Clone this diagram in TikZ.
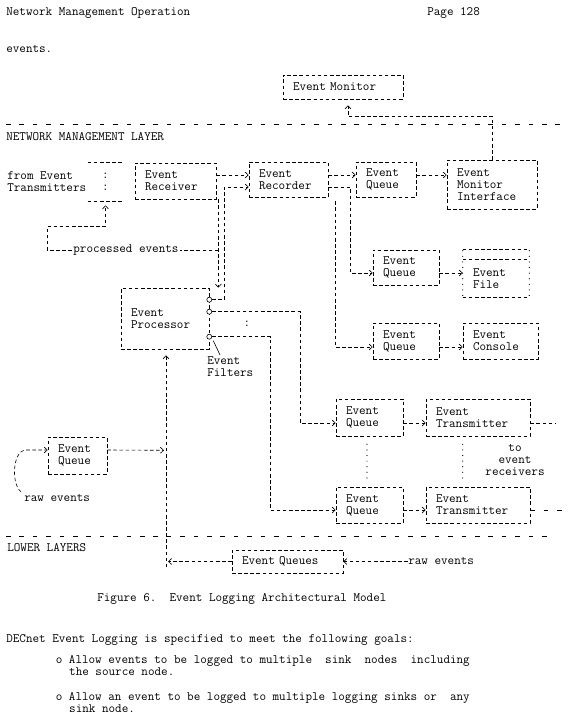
\documentclass[tikz,border=0pt]{standalone}
\usepackage{fontspec}
\usepackage{tikz}
\usetikzlibrary{arrows.meta,calc}
\newcommand{\typefont}{\ttfamily\fontsize{12.76}{12}\selectfont\frenchspacing}

\begin{document}
\begin{tikzpicture}[x=1pt,y=-1pt,line width=0.6pt,
  txt/.style={font=\typefont,inner sep=0pt,text height=7.6pt,text depth=2.2pt,anchor=west},
  lbl/.style={font=\typefont,inner sep=0pt,align=left},
  dashln/.style={dash pattern=on 3.6pt off 2.5pt},
  layer/.style={dash pattern=on 4.5pt off 8.9pt},
  colons/.style={line width=1.2pt,line cap=round,dash pattern=on 0pt off 5.6pt},
  flow/.style={dashln,-{Straight Barb[length=3.2pt,width=6pt]}},
  evbox/.style 2 args={draw,dashln,font=\typefont,align=left,inner xsep=10pt,inner ysep=0pt,text width=#1,minimum height=#2},
  port/.style={circle,draw,solid,fill=white,inner sep=0pt,minimum size=5pt}]
\useasboundingbox[fill=white] (0,0) rectangle (569,724);

\node[txt] (hdr) at (6,13) {Network Management Operation};
\node[txt] (pg) at (427,13) {Page 128};
\node[txt] (prev) at (6,50) {events.};
\node[txt] (nml) at (6,138) {NETWORK MANAGEMENT LAYER};
\node[txt] (ll) at (7,549) {LOWER LAYERS};
\draw[layer] (6,124) -- (563,124);
\draw[layer] (6,536) -- (548,536);

\node[evbox={100pt}{24pt}] (mon) at (343,87) {Event Monitor};
\node[lbl,anchor=west] (srcs) at (7,181.5) {from Event\\Transmitters};
\node[lbl,align=center,minimum width=35pt,minimum height=38pt] (remote) at (105.5,182) {:\\:};
\node[evbox={61pt}{36pt}] (rcv) at (175.5,181) {Event\\Receiver};
\node[evbox={59pt}{35pt}] (rec) at (288.5,179.5) {Event\\Recorder};
\node[evbox={40pt}{35pt}] (q0) at (386,179.5) {Event\\Queue};
\node[evbox={70pt}{49pt}] (mif) at (492,184.5) {Event\\Monitor\\Interface};
\node[evbox={46pt}{35pt}] (qf) at (406,267.5) {Event\\Queue};
\node[evbox={46pt}{37pt},draw=none] (efile) at (496,278.5) {Event\\File};
\node[evbox={46pt}{36pt}] (qc) at (406,341) {Event\\Queue};
\node[evbox={55pt}{36pt}] (econ) at (500.5,341) {Event\\Console};
\node[evbox={68pt}{61pt}] (proc) at (165,318.5) {Event\\Processor};
\node[evbox={47pt}{37pt}] (qt1) at (369.5,417.5) {Event\\Queue};
\node[evbox={84pt}{37pt}] (xmt1) at (478,417.5) {Event\\Transmitter};
\node[evbox={47pt}{36pt}] (qt2) at (369.5,505) {Event\\Queue};
\node[evbox={84pt}{36pt}] (xmt2) at (478,505) {Event\\Transmitter};
\node[evbox={39pt}{37pt}] (qraw) at (77.5,455.5) {Event\\Queue};
\node[evbox={91pt}{23pt}] (qlow) at (287.5,561.5) {Event Queues};
\node[lbl,anchor=north west] (filt) at (207,356) {Event\\Filters};
\node[lbl] (more) at (247,324) {:};
\node[lbl,align=center] (recv) at (515,460) {to\\event\\receivers};
\node[txt] (rawl) at (24,499) {raw events};
\node[txt] (rawr) at (408,561.5) {raw events};
\foreach \n/\dy in {1/12,2/24,3/49}
  \node[port] (o\n) at ($(proc.north east)+(0,\dy)$) {};

\draw[dashln] ($(efile.north west)+(0,-10)$) -- ($(efile.north east)+(0,-10)$)
  (efile.north west) -- (efile.north east) (efile.south west) -- (efile.south east);
\draw[colons] ($(efile.north west)+(0,-9)$) -- (efile.south west)
  ($(efile.north east)+(0,-9)$) -- (efile.south east);
\draw[dashln] (remote.north west) -- (remote.north east) (remote.south west) -- (remote.south east);

\draw[flow] ([yshift=6pt]rcv.east) -- ([yshift=6pt]rcv.east -| rec.west);
\draw[flow] (o1.east) -- ++(12,0) |- ([yshift=-7.5pt]rec.west);
\draw[flow] ([yshift=4.5pt]rec.east) -- ([yshift=4.5pt]rec.east -| q0.west);
\draw[flow] ([yshift=4.5pt]q0.east) -- ([yshift=4.5pt]q0.east -| mif.west);
\draw[flow] ([yshift=-7.5pt]rec.east) -- ++(22,0) |- ([yshift=-5.5pt]qf.west);
\draw[flow] ($(rec.south east)+(7,4)$) |- ([yshift=-6pt]qc.west);
\draw[flow] ([yshift=-5.5pt]qf.east) -- ([yshift=-5.5pt]qf.east -| efile.west);
\draw[flow] ([yshift=-6pt]qc.east) -- ([yshift=-6pt]qc.east -| econ.west);
\draw[flow] (mif.north) |- ($(mon.south)+(5,17)$) -- ($(mon.south)+(5,6)$);
\draw[flow] ($(rcv.south east)+(2,0)$) coordinate (drop) -- (drop |- proc.north);
\draw[flow,shorten >=4pt] ($(drop)+(0,51)$) -| ++(-171,-24)
  node[pos=0.27,fill=white,font=\typefont,inner sep=1pt] {processed events} -| (remote.south);

\draw[flow] (o2.east) -- ++(88,0) |- ([yshift=-5.5pt]qt1.west);
\draw[flow] (o3.east) -- ++(58,0) |- ([yshift=-5pt]qt2.west);
\draw[flow] ([yshift=-5.5pt]qt1.east) -- ([yshift=-5.5pt]qt1.east -| xmt1.west);
\draw[flow] ([yshift=-5pt]qt2.east) -- ([yshift=-5pt]qt2.east -| xmt2.west);
\draw[dashln] ([yshift=-5.5pt]xmt1.east) -- ++(25,0) coordinate (tx1);
\draw[layer] ([yshift=-5pt]xmt2.east) -- ++(35,0) coordinate (tx2);
\draw[colons] ($(qt1.south)+(-2.5,8)$) -- ($(qt2.north)+(-2.5,-8)$);
\draw[colons] ($(xmt1.south west)+(37,8)$) -- ($(xmt2.north west)+(37,-8)$);
\draw ($(o3)+(4,4)$) -- ($(filt.north west)+(13,-1)$);

\coordinate (join) at ($(proc.south)+(1,101)$);
\coordinate (lowend) at ($(proc.south)+(1,218)$);
\draw[flow,shorten >=6pt] (lowend) -- ($(proc.south)+(1,0)$);
\draw[flow,shorten >=2pt] ([yshift=5.5pt]qraw.east) -- (join);
\draw[flow,shorten >=2pt] (qlow.west) -- (qlow.west -| lowend);
\draw[flow] (rawr.west) -- (qlow.east);
\draw[flow] ($(rawl.north west)+(-3,-2)$) .. controls +(-10,-8) and +(-12,2) ..
  ($(qraw.west)+(-23,-5.5)$) -- ([yshift=5.5pt]qraw.west);

\node[txt] (cap) at (97,599) {Figure 6.\ \ Event Logging Architectural Model};
\node[txt] (goals) at (6,640) {DECnet Event Logging is specified to meet the following goals:};
\node[txt] (g1) at (55.5,661) {o Allow events to be logged to multiple\ \ sink\ \ nodes\ \ including};
\node[txt] (g1b) at (68.9,673) {the source node.};
\node[txt] (g2) at (55.5,698) {o Allow an event to be logged to multiple logging sinks or\ \ any};
\node[txt] (g2b) at (68.9,710) {sink node.};
\end{tikzpicture}
\end{document}
